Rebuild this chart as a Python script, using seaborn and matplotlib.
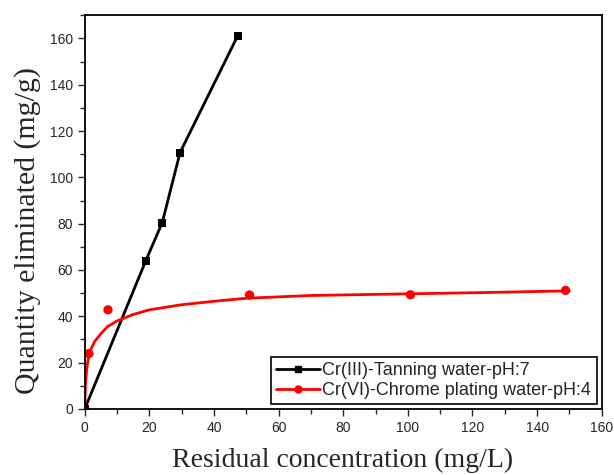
import matplotlib
matplotlib.use('Agg')
from matplotlib import pyplot as plt
from matplotlib.ticker import MultipleLocator
from matplotlib.lines import Line2D
import pandas as pd
import seaborn as sns

# Cr(III) tanning water, measured points
c3_conc = [0, 18.9, 24, 29.5, 47.3]
c3_qty = [0, 64, 80.5, 110.7, 161]

# Cr(VI) chrome plating water, measured points
c6_conc = [1.3, 7.2, 51, 100.8, 148.8]
c6_qty = [23.9, 42.8, 49.2, 49.3, 51.2]

# Cr(VI) fitted curve
fit_conc = [0, 0.1, 0.3, 0.6, 1, 2, 3, 5, 7, 10, 15, 20, 30, 40, 50, 70, 100, 125, 150]
fit_qty = [0, 6, 12, 17, 21, 26, 29, 32.5, 35.5, 38, 40.8, 42.8, 45, 46.5, 47.8, 49, 49.7, 50.3, 51]

label3 = 'Cr(III)-Tanning water-pH:7'
label6 = 'Cr(VI)-Chrome plating water-pH:4'

df3 = pd.DataFrame({'conc': c3_conc, 'qty': c3_qty})
df6 = pd.DataFrame({'conc': c6_conc, 'qty': c6_qty})
dfit = pd.DataFrame({'conc': fit_conc, 'qty': fit_qty})

sns.set_style('ticks')
plt.rcParams['font.family'] = ['Liberation Sans', 'DejaVu Sans']

f, ax = plt.subplots(figsize=(6.14, 4.75), dpi=100)
f.subplots_adjust(left=0.138, right=0.980, bottom=0.139, top=0.968)

sns.lineplot(data=df3, x='conc', y='qty', color='black', lw=2, marker='s',
             markersize=6, markeredgewidth=0, ax=ax, sort=False)
sns.lineplot(data=dfit, x='conc', y='qty', color='red', lw=2, ax=ax, sort=False)
sns.scatterplot(data=df6, x='conc', y='qty', color='red', marker='o', s=45,
                edgecolor='none', ax=ax)

ax.set_xlim(0, 160)
ax.set_ylim(0, 170)
ax.xaxis.set_major_locator(MultipleLocator(20))
ax.xaxis.set_minor_locator(MultipleLocator(10))
ax.yaxis.set_major_locator(MultipleLocator(20))
ax.yaxis.set_minor_locator(MultipleLocator(10))
ax.tick_params(which='both', direction='out', labelsize=10, width=1)
ax.tick_params(which='major', length=5)
ax.tick_params(which='minor', length=3.5)
for s in ax.spines.values():
    s.set_linewidth(1.3)
    s.set_color('black')

ax.set_xlabel('Residual concentration (mg/L)', family='Liberation Serif', fontsize=20)
ax.set_ylabel('Quantity eliminated (mg/g)', family='Liberation Serif', fontsize=21.5)
ax.xaxis.set_label_coords(0.498, -0.098)
ax.yaxis.set_label_coords(-0.085, 0.452)

handles = [Line2D([], [], color='black', lw=2, marker='s', markersize=5),
           Line2D([], [], color='red', lw=2, marker='o', markersize=5)]
leg = ax.legend(handles, [label3, label6], loc='lower right', fontsize=13,
                frameon=True, fancybox=False, edgecolor='black', framealpha=1,
                handlelength=2.4, handletextpad=0.15, borderpad=0.3,
                labelspacing=0.15, borderaxespad=0,
                bbox_to_anchor=(0.99, 0.012))
leg.get_frame().set_linewidth(1.2)

plt.savefig('out.png', dpi=100)
